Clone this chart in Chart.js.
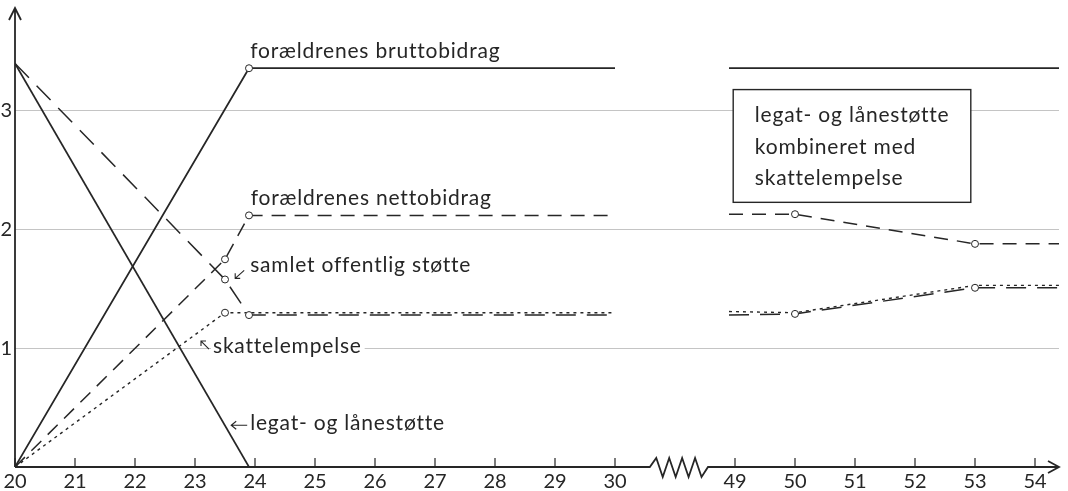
<!DOCTYPE html>
<html>
<head>
<meta charset="utf-8">
<script src="https://cdn.jsdelivr.net/npm/chart.js@4.4.0/dist/chart.umd.min.js"></script>
<style>
  html, body { margin: 0; padding: 0; background: #fff; }
  #wrap { width: 1068px; height: 491px; }
</style>
</head>
<body>
<div id="wrap"><canvas id="chart" width="1068" height="491"></canvas></div>
<script>
// Age axis is broken between 30 and 49: 49 sits where 32 would be
const tickAges = [20, 21, 22, 23, 24, 25, 26, 27, 28, 29, 30, 49, 50, 51, 52, 53, 54];
const yTicks = [1, 2, 3];
const BREAK_SHIFT = 17;

// Series (age, value)
const bruttoAge = [20, 23.9, 30, 48.9, 54.4];
const bruttoVal = [0, 3.36, 3.36, 3.36, 3.36];

const legatAge = [20, 23.9];
const legatVal = [3.4, 0];

const nettoAge = [20, 23.5, 23.9, 30, 48.9, 50, 53, 54.4];
const nettoVal = [0, 1.75, 2.12, 2.12, 2.13, 2.13, 1.88, 1.88];

const samletAge = [20, 23.5, 23.9, 30, 48.9, 50, 53, 54.4];
const samletVal = [3.4, 1.58, 1.28, 1.28, 1.28, 1.29, 1.51, 1.51];

const skatAge = [20, 23.5, 30, 48.9, 50, 53, 54.4];
const skatVal = [0, 1.30, 1.30, 1.31, 1.30, 1.53, 1.53];

const ink = '#262626';
const font = { family: 'Lato, "Noto Sans", sans-serif', size: 20 };

function axisPos(age) { return age >= 40 ? age - BREAK_SHIFT : age; }
function realAge(pos) { return pos > 30.5 ? Math.round(pos + BREAK_SHIFT) : pos; }

function toPoints(ages, vals) {
    let pts = [];
    ages.forEach((a, i) => {
        if (i > 0 && ages[i - 1] <= 30 && a >= 40) pts.push({ x: 31, y: null });
        pts.push({ x: axisPos(a), y: vals[i] });
    });
    return pts;
}

function makeSet(label, ages, vals, dash, width, marks) {
    return {
        label: label,
        data: toPoints(ages, vals),
        borderColor: ink,
        borderWidth: width,
        borderDash: dash,
        spanGaps: false,
        tension: 0,
        pointRadius: ctx => (ctx.raw && marks.includes(realAge(ctx.raw.x)) ? 3.5 : 0),
        pointBackgroundColor: '#fff',
        pointBorderColor: ink,
        pointBorderWidth: 1
    };
}

// Text labels placed in data coordinates (age, value)
const notes = [
    { text: 'forældrenes bruttobidrag', age: 23.92, val: 3.45 },
    { text: 'forældrenes nettobidrag', age: 23.93, val: 2.21 },
    { text: 'samlet offentlig støtte', age: 23.92, val: 1.64, arrow: 'sw' },
    { text: 'skattelempelse', age: 23.3, val: 0.96, arrow: 'nw' },
    { text: 'legat- og lånestøtte', age: 23.92, val: 0.31, arrow: 'w' }
];
const boxLines = ['legat- og lånestøtte', 'kombineret med', 'skattelempelse'];

const decor = {
    id: 'decor',
    beforeDatasetsDraw(chart) {
        const { ctx, chartArea: a, scales: { x, y } } = chart;
        const y0 = y.getPixelForValue(0);
        ctx.save();
        ctx.strokeStyle = ink;
        ctx.fillStyle = ink;
        ctx.lineWidth = 1.8;

        // y axis with arrow
        ctx.beginPath();
        ctx.moveTo(a.left, y0);
        ctx.lineTo(a.left, a.top - 8);
        ctx.moveTo(a.left - 6, a.top + 4);
        ctx.lineTo(a.left, a.top - 8);
        ctx.lineTo(a.left + 6, a.top + 4);
        ctx.stroke();

        // x axis with zigzag break
        const bx0 = x.getPixelForValue(30.58), bx1 = x.getPixelForValue(31.55);
        ctx.beginPath();
        ctx.moveTo(a.left, y0);
        ctx.lineTo(bx0, y0);
        const n = 9, step = (bx1 - bx0) / n;
        for (let i = 1; i < n; i++) {
            ctx.lineTo(bx0 + i * step, y0 + (i % 2 ? -9 : 10));
        }
        ctx.lineTo(bx1, y0);
        ctx.lineTo(a.right, y0);
        ctx.moveTo(a.right - 11, y0 - 6);
        ctx.lineTo(a.right, y0);
        ctx.lineTo(a.right - 11, y0 + 6);
        ctx.stroke();

        // ticks pointing up
        ctx.lineWidth = 1.2;
        tickAges.forEach(age => {
            const px = x.getPixelForValue(axisPos(age));
            ctx.beginPath();
            ctx.moveTo(px, y0);
            ctx.lineTo(px, y0 - 9);
            ctx.stroke();
        });

        // labels
        ctx.font = '21px ' + font.family;
        ctx.letterSpacing = '0.8px';
        ctx.textBaseline = 'alphabetic';
        notes.forEach(n => {
            const px = x.getPixelForValue(axisPos(n.age));
            const py = y.getPixelForValue(n.val);
            const w = ctx.measureText(n.text).width;
            ctx.fillStyle = '#fff';
            ctx.fillRect(px - 2, py - 17, w + 5, 23);
            ctx.fillStyle = ink;
            ctx.fillText(n.text, px, py);
            ctx.lineWidth = 1.1;
            ctx.beginPath();
            if (n.arrow === 'w') {
                ctx.moveTo(px - 3, py - 5); ctx.lineTo(px - 19, py - 5);
                ctx.moveTo(px - 14, py - 9); ctx.lineTo(px - 19, py - 5); ctx.lineTo(px - 14, py - 1);
            } else if (n.arrow === 'sw') {
                ctx.moveTo(px - 6, py - 2); ctx.lineTo(px - 15, py + 6);
                ctx.moveTo(px - 15, py + 1); ctx.lineTo(px - 15, py + 6); ctx.lineTo(px - 10, py + 6);
            } else if (n.arrow === 'nw') {
                ctx.moveTo(px - 4, py - 4); ctx.lineTo(px - 12, py - 12);
                ctx.moveTo(px - 12, py - 7); ctx.lineTo(px - 12, py - 12); ctx.lineTo(px - 7, py - 12);
            }
            ctx.stroke();
        });

        // boxed note for the right-hand part
        const l = x.getPixelForValue(axisPos(48.97)), r = x.getPixelForValue(axisPos(52.93));
        const t = y.getPixelForValue(3.18), b = y.getPixelForValue(2.23);
        ctx.fillStyle = '#fff';
        ctx.fillRect(l, t, r - l, b - t);
        ctx.lineWidth = 1.4;
        ctx.strokeRect(l, t, r - l, b - t);
        ctx.fillStyle = ink;
        const base = [2.91, 2.64, 2.38];
        boxLines.forEach((s, i) => {
            ctx.fillText(s, x.getPixelForValue(axisPos(49.33)), y.getPixelForValue(base[i]));
        });
        ctx.restore();
    }
};

const chart = new Chart(document.getElementById('chart').getContext('2d'), {
    type: 'line',
    data: {
        datasets: [
            makeSet('forældrenes bruttobidrag', bruttoAge, bruttoVal, [], 1.7, [23.9]),
            makeSet('legat- og lånestøtte', legatAge, legatVal, [], 1.7, []),
            makeSet('forældrenes nettobidrag', nettoAge, nettoVal, [14, 9], 1.5, [23.5, 23.9, 50, 53]),
            makeSet('samlet offentlig støtte', samletAge, samletVal, [20, 11], 1.5, [23.5, 23.9, 50, 53]),
            makeSet('skattelempelse', skatAge, skatVal, [3, 4], 1.4, [23.5])
        ]
    },
    options: {
        responsive: false,
        animation: false,
        layout: { padding: { top: 16, right: 9, left: 0, bottom: 0 } },
        plugins: { legend: { display: false }, tooltip: { enabled: false } },
        scales: {
            x: {
                type: 'linear',
                min: 20,
                max: 37.4,
                afterBuildTicks: s => { s.ticks = tickAges.map(a => ({ value: axisPos(a) })); },
                afterFit: s => { s.height = 24; },
                grid: { display: false, drawTicks: false },
                border: { display: false },
                ticks: { callback: v => realAge(v), font: font, color: ink, padding: 3, maxRotation: 0, autoSkip: false }
            },
            y: {
                min: 0,
                max: 3.8,
                afterBuildTicks: s => { s.ticks = yTicks.map(v => ({ value: v })); },
                afterFit: s => { s.width = 15; },
                grid: { color: '#c4c4c4', lineWidth: 1, drawTicks: false },
                border: { display: false },
                ticks: { font: font, color: ink, padding: 3 }
            }
        }
    },
    plugins: [decor]
});
</script>
</body>
</html>
